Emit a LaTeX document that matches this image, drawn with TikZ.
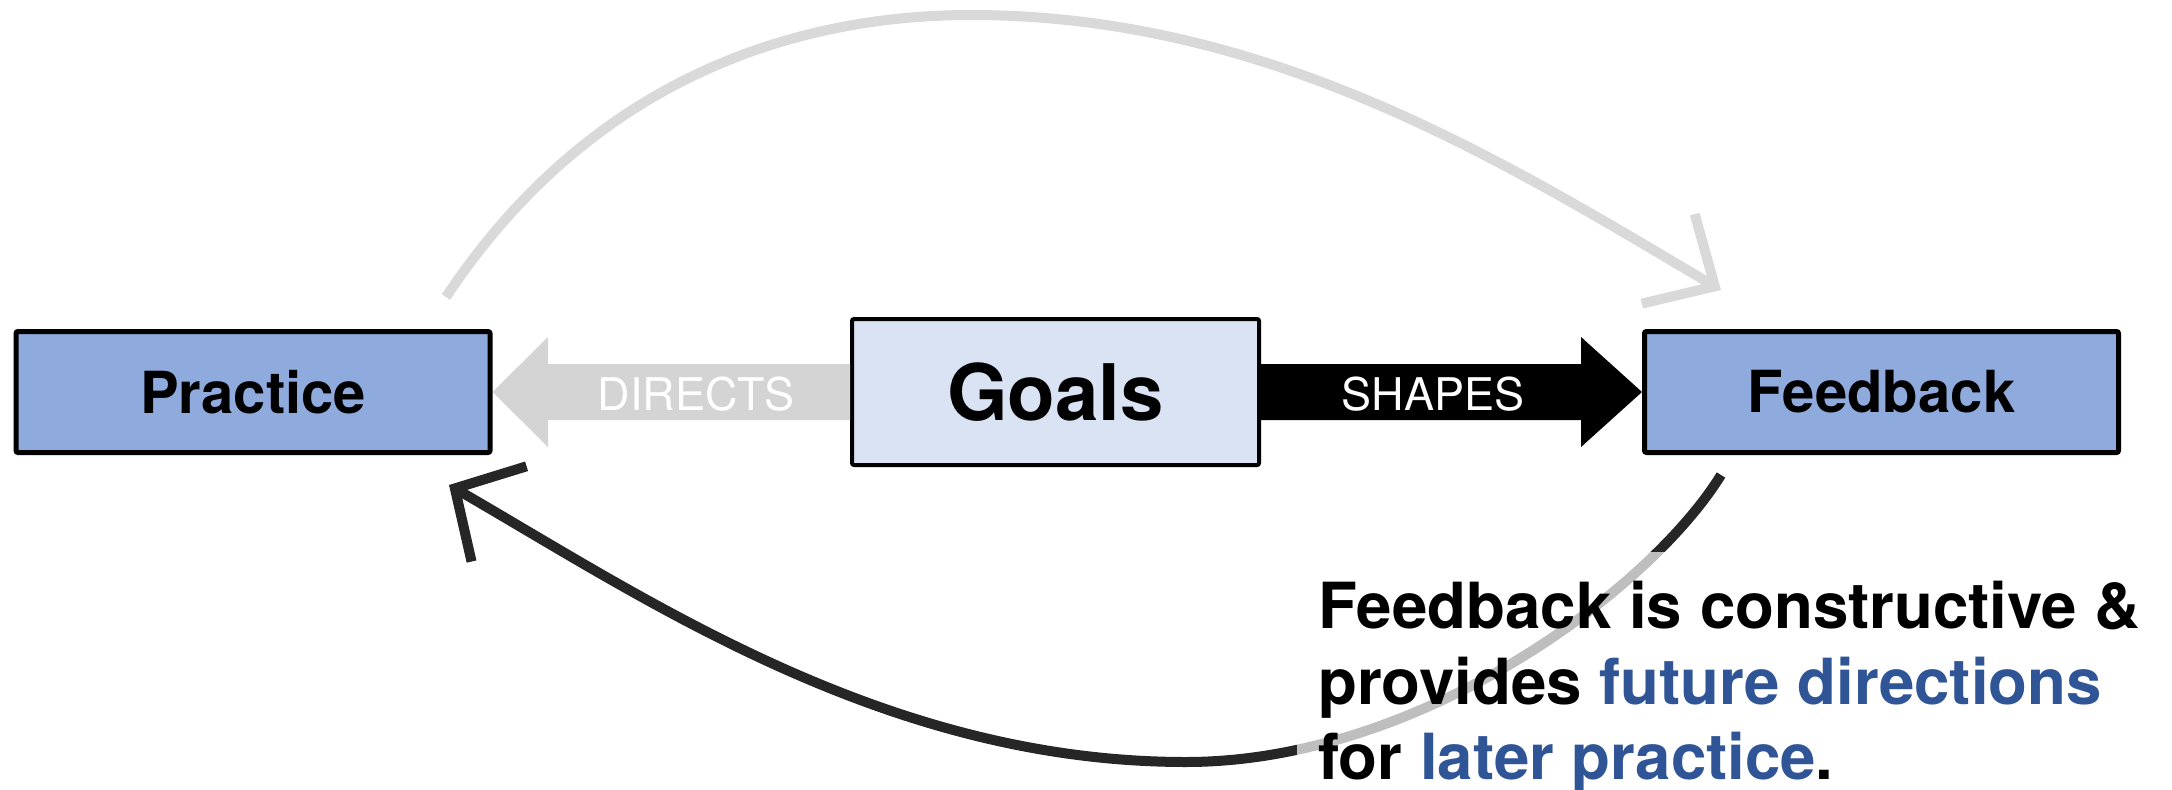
\documentclass[tikz,border=0pt]{standalone}
\usepackage{fontspec}
\setmainfont{TeX Gyre Heros}
\usetikzlibrary{arrows.meta}
\definecolor{boxblue}{RGB}{143,170,220}
\definecolor{goalblue}{RGB}{218,227,243}
\definecolor{arrgray}{RGB}{212,212,212}
\definecolor{curvegray}{RGB}{217,217,217}
\definecolor{curveblack}{RGB}{38,38,38}
\definecolor{textblue}{RGB}{47,85,151}
\begin{document}
\begin{tikzpicture}[x=1pt,y=-1pt,
  box/.style={draw=black, line width=5pt, rounded corners=2pt,
    font=\bfseries\fontsize{58}{60}\selectfont,
    minimum width=474pt, minimum height=121pt, inner sep=0pt},
  blocklabel/.style={font=\fontsize{45}{47}\selectfont, text=white, inner sep=0pt},
  flowcurve/.style={line width=10pt},
]
\useasboundingbox (0,0) rectangle (2172,790);
% boxes
\node[box, fill=boxblue] (practice) at (253,392) {Practice};
\node[box, fill=goalblue, line width=4pt, minimum width=407pt, minimum height=146pt,
  font=\bfseries\fontsize{78}{80}\selectfont] (goals) at (1055.5,392) {Goals};
\node[box, fill=boxblue] (feedback) at (1881.5,392) {Feedback};
% block arrows
\fill[arrgray] (goals.west |- 0,364) -- (548,364) -- (548,337) -- (practice.east)
  -- (548,447) -- (548,420) -- (goals.west |- 0,420) -- cycle;
\fill[black] (goals.east |- 0,364) -- (1581,364) -- (1581,337) -- (feedback.west)
  -- (1581,447) -- (1581,420) -- (goals.east |- 0,420) -- cycle;
\node[blocklabel] (directs) at (696,394.5) {DIRECTS};
\node[blocklabel] (shapes) at (1433,394.5) {SHAPES};
% curved connectors
\coordinate (topstart) at (446,297);
\coordinate (topend) at (1721,290);
\draw[flowcurve, curvegray, -{Straight Barb[length=54pt,width=104pt,sharp]}]
  (topstart) .. controls (610,50) and (840,15) .. (971,15)
  .. controls (1271,15) and (1506,163) .. (topend);
\coordinate (botstart) at (1721,475);
\coordinate (botend) at (449,485);
\draw[flowcurve, curveblack, -{Straight Barb[length=51pt,width=110pt,sharp]}]
  (botstart) .. controls (1650,590) and (1420,762) .. (1186,762)
  .. controls (886,762) and (648,600) .. (botend);
% note
\node[anchor=north west, fill=white, fill opacity=0.7, text opacity=1, align=left,
  inner xsep=21pt, inner ysep=29pt,
  font=\bfseries\fontsize{63.6}{75.5}\selectfont] (note) at (1297,552)
  {Feedback is constructive \&\\provides \textcolor{textblue}{future directions}\\for \textcolor{textblue}{later practice}.};
\end{tikzpicture}
\end{document}
